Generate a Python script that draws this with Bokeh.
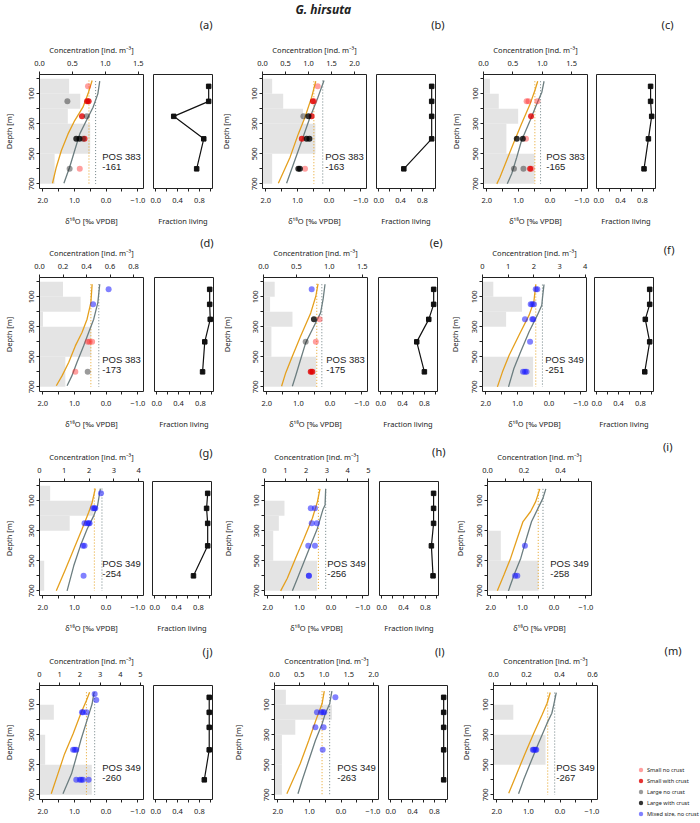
import numpy as np
from bokeh.plotting import figure
from bokeh.models import Range1d, LinearAxis, FixedTicker, Title, Legend, LegendItem
from bokeh.layouts import row, column
from bokeh.embed import file_html
from bokeh.resources import INLINE
from bokeh.core.properties import value

# ---------------- shared values ----------------
BAR_TOP = [0, 100, 200, 300, 500]
BAR_BOTTOM = [100, 200, 300, 500, 700]
FRAC_DEPTH = [50, 150, 250, 400, 600]
D18O_TICKS = [2, 1, 0, -1]
D18O_LABELS = ["2.0", "1.0", "0.0", "\u22121.0"]
D18O_MINOR = [1.5, 0.5, -0.5]
DEPTH_TICKS = [100, 300, 500, 700]
DEPTH_LABELS = ["100", "300", "500", "700"]
DEPTH_MINOR = [0, 200, 400, 600]
FRAC_TICKS = [0, 0.4, 0.8]
FRAC_LABELS = ["0.0", "0.4", "0.8"]
FRAC_MINOR = [0.2, 0.6, 1.0]
CATEGORIES = ["sn", "sc", "ln", "lc", "mx"]
CATEGORY_NAMES = ["Small no crust", "Small with crust", "Large no crust",
                  "Large with crust", "Mixed size, no crust"]

# ---------------- panel (a) POS 383-161 ----------------
a_conc = [0.45, 0.62, 0.43, 0.77, 0.23]
a_cticks = [0, 0.5, 1.0, 1.5]
a_clabels = ["0.0", "0.5", "1.0", "1.5"]
a_cmax = 1.58
a_orange_x = [0.44, 0.57, 0.73, 0.99, 1.20, 1.41, 1.57, 1.69]
a_orange_y = [11, 100, 189, 278, 367, 478, 589, 696]
a_gray_x = [0.20, 0.26, 0.41, 0.62, 0.83, 0.99, 1.15, 1.33]
a_gray_y = [15, 100, 189, 278, 367, 478, 589, 696]
a_dot = [0.54, 0.33]
a_pt_x = [0.57, 1.22, 0.60, 0.55, 0.76, 0.61, 0.94, 0.84, 0.73, 0.68, 1.15, 0.83]
a_pt_y = [50, 150, 150, 150, 250, 250, 400, 400, 400, 400, 600, 600]
a_pt_cat = ["sn", "ln", "sc", "sc", "sc", "ln", "lc", "lc", "ln", "sc", "ln", "sn"]
a_frac = [0.97, 0.97, 0.33, 0.88, 0.75]
a_pos = ["POS 383", "-161"]

# ---------------- panel (b) POS 383-163 ----------------
b_conc = [0.21, 0.45, 0.88, 1.15, 0.21]
b_cticks = [0, 0.5, 1.0, 1.5, 2.0]
b_clabels = ["0.0", "0.5", "1.0", "1.5", "2.0"]
b_cmax = 2.26
b_orange_x = [0.42, 0.55, 0.76, 0.97, 1.23, 1.60]
b_orange_y = [16, 122, 256, 367, 522, 696]
b_gray_x = [0.16, 0.35, 0.60, 0.97, 1.34]
b_gray_y = [11, 122, 256, 478, 696]
b_dot = [0.48, 0.20]
b_pt_x = [0.36, 0.51, 0.47, 0.81, 0.65, 0.55, 0.86, 0.71, 0.62, 0.97, 0.92, 0.76]
b_pt_y = [50, 150, 150, 250, 250, 250, 400, 400, 400, 600, 600, 600]
b_pt_cat = ["sn", "sc", "sn", "ln", "lc", "sc", "sc", "lc", "lc", "lc", "lc", "sn"]
b_frac = [0.97, 0.97, 0.97, 0.97, 0.46]
b_pos = ["POS 383", "-163"]

# ---------------- panel (c) POS 383-165 ----------------
c_conc = [0.11, 0.26, 0.59, 0.39, 0.87]
c_cticks = [0, 0.5, 1.0, 1.5]
c_clabels = ["0.0", "0.5", "1.0", "1.5"]
c_cmax = 1.77
c_orange_x = [0.39, 0.48, 0.63, 0.90, 1.16, 1.37, 1.58, 1.68]
c_orange_y = [16, 78, 167, 300, 433, 544, 656, 700]
c_gray_x = [0.19, 0.26, 0.42, 0.63, 0.90, 1.05, 1.21, 1.35]
c_gray_y = [16, 89, 167, 278, 411, 522, 633, 700]
c_dot = [0.48, 0.30]
c_pt_x = [0.74, 0.68, 0.40, 0.60, 1.05, 0.86, 0.76, 1.14, 0.84, 0.63, 0.58]
c_pt_y = [150, 150, 150, 250, 400, 400, 400, 600, 600, 600, 600]
c_pt_cat = ["sn", "sn", "sn", "sc", "lc", "lc", "sn", "ln", "ln", "sc", "sn"]
c_frac = [0.95, 0.95, 0.97, 0.91, 0.83]
c_pos = ["POS 383", "-165"]

# ---------------- panel (d) POS 383-173 ----------------
d_conc = [0.20, 0.35, 0.03, 0.44, 0.22]
d_cticks = [0, 0.2, 0.4, 0.6, 0.8]
d_clabels = ["0.0", "0.2", "0.4", "0.6", "0.8"]
d_cmax = 0.885
d_orange_x = [0.44, 0.48, 0.60, 0.76, 0.97, 1.18, 1.39, 1.57]
d_orange_y = [16, 138, 249, 338, 427, 538, 627, 693]
d_gray_x = [0.20, 0.26, 0.39, 0.55, 0.71, 0.92, 1.08, 1.23]
d_gray_y = [16, 138, 249, 338, 427, 538, 627, 693]
d_dot = [0.48, 0.23]
d_pt_x = [-0.08, 0.41, 0.58, 0.52, 0.44, 0.97, 0.58]
d_pt_y = [50, 150, 400, 400, 400, 600, 600]
d_pt_cat = ["mx", "mx", "sn", "sn", "sn", "sn", "ln"]
d_frac = [0.97, 0.97, 0.98, 0.88, 0.84]
d_pos = ["POS 383", "-173"]

# ---------------- panel (e) POS 383-175 ----------------
e_conc = [0.17, 0.10, 0.44, 0.12, 0.80]
e_cticks = [0, 0.5, 1.0, 1.5]
e_clabels = ["0.0", "0.5", "1.0", "1.5"]
e_cmax = 1.58
e_orange_x = [0.38, 0.45, 0.61, 0.93, 1.19, 1.40, 1.53]
e_orange_y = [13, 96, 207, 362, 496, 607, 696]
e_gray_x = [0.16, 0.22, 0.30, 0.56, 0.77, 0.93, 1.09, 1.19]
e_gray_y = [16, 116, 207, 318, 407, 518, 629, 696]
e_dot = [0.42, 0.26]
e_pt_x = [0.58, 0.51, 0.33, 0.77, 0.45, 0.61, 0.56]
e_pt_y = [50, 250, 250, 400, 400, 600, 600]
e_pt_cat = ["mx", "lc", "sn", "ln", "sn", "sc", "sc"]
e_frac = [0.97, 0.97, 0.88, 0.66, 0.80]
e_pos = ["POS 383", "-175"]

# ---------------- panel (f) POS 349-251 ----------------
f_conc = [0.42, 1.54, 0.92, 0.0, 1.97]
f_cticks = [0, 1, 2, 3, 4]
f_clabels = ["0", "1", "2", "3", "4"]
f_cmax = 4.05
f_orange_x = [0.42, 0.48, 0.63, 0.95, 1.26, 1.47, 1.63]
f_orange_y = [18, 133, 222, 356, 489, 600, 700]
f_gray_x = [0.16, 0.21, 0.23, 0.37, 0.63, 0.90, 1.11, 1.28]
f_gray_y = [18, 111, 156, 222, 333, 467, 578, 700]
f_dot = [0.42, 0.21]
f_pt_x = [0.42, 0.37, 0.58, 0.53, 0.48, 0.76, 0.53, 0.50, 0.60, 0.82, 0.76, 0.71]
f_pt_y = [50, 50, 150, 150, 150, 250, 250, 250, 400, 600, 600, 600]
f_pt_cat = ["mx"] * 12
f_frac = [0.97, 0.97, 0.89, 0.97, 0.88]
f_pos = ["POS 349", "-251"]

# ---------------- panel (g) POS 349-254 ----------------
g_conc = [0.43, 2.17, 1.22, 0.0, 0.19]
g_cticks = [0, 1, 2, 3, 4]
g_clabels = ["0", "1", "2", "3", "4"]
g_cmax = 4.2
g_orange_x = [0.34, 0.44, 0.55, 0.76, 1.02, 1.28, 1.57]
g_orange_y = [18, 111, 178, 289, 422, 556, 700]
g_gray_x = [0.18, 0.27, 0.39, 0.60, 0.81, 1.02, 1.23]
g_gray_y = [18, 133, 200, 289, 400, 533, 700]
g_dot = [0.37, 0.13]
g_pt_x = [0.16, 0.41, 0.37, 0.34, 0.68, 0.60, 0.55, 0.52, 0.73, 0.68, 0.71]
g_pt_y = [50, 150, 150, 150, 250, 250, 250, 250, 400, 400, 600]
g_pt_cat = ["mx"] * 11
g_frac = [0.97, 0.95, 0.97, 0.97, 0.71]
g_pos = ["POS 349", "-254"]

# ---------------- panel (h) POS 349-256 ----------------
h_conc = [0.0, 0.96, 0.69, 0.42, 2.53]
h_cticks = [0, 1, 2, 3, 4, 5]
h_clabels = ["0", "1", "2", "3", "4", "5"]
h_cmax = 5.0
h_orange_x = [0.35, 0.43, 0.59, 0.85, 1.12, 1.38, 1.59]
h_orange_y = [20, 105, 216, 349, 482, 616, 700]
h_gray_x = [0.17, 0.19, 0.26, 0.43, 0.64, 0.85, 1.06, 1.22]
h_gray_y = [20, 127, 160, 282, 393, 504, 616, 700]
h_dot = [0.40, 0.17]
h_pt_x = [0.64, 0.51, 0.61, 0.45, 0.72, 0.51, 0.70, 0.70]
h_pt_y = [150, 150, 250, 250, 400, 400, 600, 600]
h_pt_cat = ["mx"] * 8
h_frac = [0.95, 0.95, 0.95, 0.91, 0.94]
h_pos = ["POS 349", "-256"]

# ---------------- panel (i) POS 349-258 ----------------
i_conc = [0.0, 0.0, 0.0, 0.073, 0.28]
i_cticks = [0, 0.2, 0.4]
i_clabels = ["0.0", "0.2", "0.4"]
i_cminor = [0.1, 0.3, 0.5]
i_cmax = 0.57
i_orange_x = [0.45, 0.58, 0.74, 0.98, 1.16, 1.37, 1.58, 1.79]
i_orange_y = [20, 105, 171, 238, 349, 482, 593, 700]
i_gray_x = [0.26, 0.35, 0.53, 0.71, 0.87, 1.05, 1.26, 1.44]
i_gray_y = [20, 82, 160, 238, 349, 482, 593, 700]
i_dot = [0.50, 0.35]
i_pt_x = [0.92, 1.23, 1.16]
i_pt_y = [400, 600, 600]
i_pt_cat = ["mx"] * 3
i_pos = ["POS 349", "-258"]

# ---------------- panel (j) POS 349-260 ----------------
j_conc = [0.0, 0.71, 0.0, 0.28, 2.59]
j_cticks = [0, 1, 2, 3, 4, 5]
j_clabels = ["0", "1", "2", "3", "4", "5"]
j_cmax = 5.15
j_orange_x = [0.52, 0.62, 0.80, 1.04, 1.31, 1.52, 1.73]
j_orange_y = [16, 71, 160, 293, 427, 560, 693]
j_gray_x = [0.38, 0.44, 0.57, 0.80, 0.97, 1.09, 1.36]
j_gray_y = [16, 93, 182, 338, 471, 560, 693]
j_dot = [0.62, 0.36]
j_pt_x = [0.36, 0.31, 0.76, 0.73, 0.62, 1.04, 0.99, 0.94, 0.94, 0.83, 0.78, 0.73, 0.55]
j_pt_y = [27, 67, 150, 150, 150, 400, 400, 400, 600, 600, 600, 600, 600]
j_pt_cat = ["mx"] * 13
j_frac = [0.98, 0.98, 0.98, 0.98, 0.89]
j_pos = ["POS 349", "-260"]

# ---------------- panel (l) POS 349-263 ----------------
l_conc = [0.23, 1.16, 0.42, 0.15, 0.15]
l_cticks = [0, 0.5, 1.0, 1.5, 2.0]
l_clabels = ["0.0", "0.5", "1.0", "1.5", "2.0"]
l_cmax = 2.1
l_orange_x = [0.53, 0.60, 0.76, 1.02, 1.29, 1.55, 1.71]
l_orange_y = [9, 93, 182, 338, 493, 616, 693]
l_gray_x = [0.29, 0.36, 0.50, 0.60, 0.81, 1.02, 1.23, 1.36]
l_gray_y = [9, 93, 160, 227, 338, 471, 604, 693]
l_dot = [0.60, 0.36]
l_pt_x = [0.18, 0.76, 0.63, 0.57, 0.53, 0.81, 0.55, 0.58]
l_pt_y = [50, 150, 150, 150, 150, 250, 250, 400]
l_pt_cat = ["mx"] * 8
l_frac = [0.97, 0.97, 0.97, 0.97, 0.97]
l_pos = ["POS 349", "-263"]

# ---------------- panel (m) POS 349-267 ----------------
m_conc = [0.0, 0.12, 0.0, 0.315, 0.0]
m_cticks = [0, 0.2, 0.4, 0.6]
m_clabels = ["0.0", "0.2", "0.4", "0.6"]
m_cminor = [0.1, 0.3, 0.5]
m_cmax = 0.63
m_orange_x = [0.31, 0.41, 0.57, 0.83, 1.10, 1.36, 1.62]
m_orange_y = [18, 89, 167, 289, 422, 556, 689]
m_gray_x = [0.12, 0.20, 0.26, 0.41, 0.68, 0.94, 1.15, 1.31]
m_gray_y = [18, 100, 156, 222, 356, 489, 600, 693]
m_dot = [0.39, 0.17]
m_pt_x = [0.86, 0.83, 0.78, 0.75]
m_pt_y = [400, 400, 400, 400]
m_pt_cat = ["mx"] * 4
m_pos = ["POS 349", "-267"]


def panel(conc, cticks, clabels, cmax, ox, oy, gx, gy, dot, px, py, pc, pos, frac=None, cminor=None):
    return dict(conc=conc, cticks=cticks, clabels=clabels, cmax=cmax, ox=ox, oy=oy,
                gx=gx, gy=gy, dot=dot, px=px, py=py, pc=pc, pos=pos, frac=frac,
                cminor=cminor or [])


PANELS = {
    "a": panel(a_conc, a_cticks, a_clabels, a_cmax, a_orange_x, a_orange_y, a_gray_x, a_gray_y, a_dot, a_pt_x, a_pt_y, a_pt_cat, a_pos, a_frac),
    "b": panel(b_conc, b_cticks, b_clabels, b_cmax, b_orange_x, b_orange_y, b_gray_x, b_gray_y, b_dot, b_pt_x, b_pt_y, b_pt_cat, b_pos, b_frac),
    "c": panel(c_conc, c_cticks, c_clabels, c_cmax, c_orange_x, c_orange_y, c_gray_x, c_gray_y, c_dot, c_pt_x, c_pt_y, c_pt_cat, c_pos, c_frac),
    "d": panel(d_conc, d_cticks, d_clabels, d_cmax, d_orange_x, d_orange_y, d_gray_x, d_gray_y, d_dot, d_pt_x, d_pt_y, d_pt_cat, d_pos, d_frac),
    "e": panel(e_conc, e_cticks, e_clabels, e_cmax, e_orange_x, e_orange_y, e_gray_x, e_gray_y, e_dot, e_pt_x, e_pt_y, e_pt_cat, e_pos, e_frac),
    "f": panel(f_conc, f_cticks, f_clabels, f_cmax, f_orange_x, f_orange_y, f_gray_x, f_gray_y, f_dot, f_pt_x, f_pt_y, f_pt_cat, f_pos, f_frac),
    "g": panel(g_conc, g_cticks, g_clabels, g_cmax, g_orange_x, g_orange_y, g_gray_x, g_gray_y, g_dot, g_pt_x, g_pt_y, g_pt_cat, g_pos, g_frac),
    "h": panel(h_conc, h_cticks, h_clabels, h_cmax, h_orange_x, h_orange_y, h_gray_x, h_gray_y, h_dot, h_pt_x, h_pt_y, h_pt_cat, h_pos, h_frac),
    "i": panel(i_conc, i_cticks, i_clabels, i_cmax, i_orange_x, i_orange_y, i_gray_x, i_gray_y, i_dot, i_pt_x, i_pt_y, i_pt_cat, i_pos, None, i_cminor),
    "j": panel(j_conc, j_cticks, j_clabels, j_cmax, j_orange_x, j_orange_y, j_gray_x, j_gray_y, j_dot, j_pt_x, j_pt_y, j_pt_cat, j_pos, j_frac),
    "l": panel(l_conc, l_cticks, l_clabels, l_cmax, l_orange_x, l_orange_y, l_gray_x, l_gray_y, l_dot, l_pt_x, l_pt_y, l_pt_cat, l_pos, l_frac),
    "m": panel(m_conc, m_cticks, m_clabels, m_cmax, m_orange_x, m_orange_y, m_gray_x, m_gray_y, m_dot, m_pt_x, m_pt_y, m_pt_cat, m_pos, None, m_cminor),
}

# ---------------- styles / layout ----------------
FONT = "Noto Sans"
TICK_FS = "7.5px"
LABEL_FS = "7.5px"
ORANGE = "#E5A01E"
GRAY = "#6C7E80"
BAR_COLOR = "#E4E4E4"
CAT_STYLE = {"sn": ("#ff2a2a", 0.45), "sc": ("#e00000", 0.8), "ln": ("#222222", 0.45),
             "lc": ("#000000", 0.8), "mx": ("#1a1aff", 0.55)}
FRAME_W, FRAC_W, FRAME_H = 104, 59, 114
AXIS_ABOVE = 32.4          # approx. height of the concentration axis block
COL_LEFT = [None, 43, 36]  # left border of the 2nd / 3rd main figure of a row
DEPTH_STANDOFF = [13, 19, 10]
LEGEND_GLYPH_X = 634       # page x of the legend markers
LEGEND_BOTTOM = 819        # page y of the legend's lower edge

# page positions (the bokeh page has no margin): (key, main frame left, frac frame left, frame top)
LAYOUT = [
    dict(top=0, bottom=232, end=699, cells=[("a", 35, 149, 74), ("b", 256, 370, 74), ("c", 477, 590, 74)]),
    dict(top=232, bottom=432, end=699, cells=[("d", 36, 151, 277), ("e", 258, 373, 277), ("f", 477, 589, 270)]),
    dict(top=432, bottom=635, end=699, cells=[("g", 36, 149, 480), ("h", 259, 374, 480), ("i", 482, None, 481)]),
    dict(top=635, bottom=822, end=699, cells=[("j", 35, 149, 685), ("l", 268, 382, 685), ("m", 487, None, 685)]),
]
PANEL_LABEL_POS = {"a": (208, 23), "b": (438, 23), "c": (667, 23), "d": (210, 241), "e": (437, 241),
                   "f": (669, 241), "g": (209, 450), "h": (440, 449), "i": (667, 448),
                   "j": (208, 650), "l": (438, 650), "m": (675, 650)}


def style_axis(ax, ticks, labels, minor, bounds):
    ax.ticker = FixedTicker(ticks=ticks, minor_ticks=minor)
    ax.major_label_overrides = {t: s for t, s in zip(ticks, labels)}
    ax.major_tick_out = 3
    ax.major_tick_in = 0
    ax.minor_tick_out = 3
    ax.minor_tick_in = 0
    ax.bounds = bounds
    ax.major_label_text_font = FONT
    ax.major_label_text_font_size = TICK_FS
    ax.major_label_text_color = "#222222"
    ax.axis_label_text_font = FONT
    ax.axis_label_text_font_size = LABEL_FS
    ax.axis_label_text_font_style = "normal"
    ax.axis_label_text_color = "#222222"
    ax.axis_line_color = "#222222"
    ax.major_tick_line_color = "#222222"
    ax.minor_tick_line_color = "#222222"


def base_fig(fw, x0, x1, fl, ft, top, bottom, x_range, **kw):
    p = figure(frame_width=fw, frame_height=FRAME_H,
               min_border_left=fl - x0, min_border_right=x1 - fl - fw,
               min_border_top=ft - top, min_border_bottom=bottom - ft - FRAME_H,
               x_range=x_range, y_range=Range1d(731, -29),
               output_backend="svg", toolbar_location=None, **kw)
    p.xgrid.visible = False
    p.ygrid.visible = False
    p.outline_line_color = "#222222"
    p.outline_line_alpha = 1.0
    p.outline_line_width = 1
    return p


def above_text(p, text, dist, base, size, h, ls, align="right", offset=0, style="normal"):
    """Blank spacer title (if room is needed) and a text title stacked above the frame."""
    s = dist - base - ls / 2 - h / 2
    if s >= 4:
        p.add_layout(Title(text=" ", text_font_size="1px", standoff=int(round(s - 3.4))), "above")
    p.add_layout(Title(text=text, align=align, offset=offset, standoff=ls, vertical_align="bottom",
                       text_font=FONT, text_font_size=size, text_font_style=style,
                       text_color="#222222"), "above")


def make_main(key, x0, x1, ml, ft, top, bottom, col, last_row):
    P = PANELS[key]
    p = base_fig(FRAME_W, x0, x1, ml, ft, top, bottom, Range1d(2.1, -1.18))
    p.extra_x_ranges = {"conc": Range1d(0, P["cmax"])}
    p.quad(left=[0] * len(P["conc"]), right=P["conc"], top=BAR_TOP, bottom=BAR_BOTTOM,
           x_range_name="conc", fill_color=BAR_COLOR, line_color=None)
    p.segment(x0=P["dot"], x1=P["dot"], y0=[P["oy"][0], P["gy"][0]], y1=[700, 700],
              line_color=[ORANGE, GRAY], line_dash="1 2", line_width=1)
    p.line(P["ox"], P["oy"], line_color=ORANGE, line_width=1.3)
    p.line(P["gx"], P["gy"], line_color=GRAY, line_width=1.3)
    for cat in CATEGORIES:
        xs = [x for x, c in zip(P["px"], P["pc"]) if c == cat]
        ys = [y for y, c in zip(P["py"], P["pc"]) if c == cat]
        if xs:
            colr, alpha = CAT_STYLE[cat]
            p.scatter(xs, ys, size=6, fill_color=colr, fill_alpha=alpha, line_alpha=0)
    p.text(x=[0.12, 0.12], y=[520, 588], text=P["pos"], text_font=value("Liberation Sans"),
           text_font_size="9.5px", text_align="left", text_baseline="middle", text_color="#222222")
    xa = p.xaxis[0]
    style_axis(xa, D18O_TICKS, D18O_LABELS, D18O_MINOR, (-1, 2))
    xa.major_label_standoff = 6
    if not last_row:
        xa.axis_label = "\u03b4\u00b9\u2078O [\u2030 VPDB]"
        xa.axis_label_standoff = 10
    ya = p.yaxis[0]
    style_axis(ya, DEPTH_TICKS, DEPTH_LABELS, DEPTH_MINOR, (0, 700))
    ya.major_label_orientation = "vertical"
    ya.major_label_standoff = 2
    ya.axis_label = "Depth [m]"
    ya.axis_label_standoff = DEPTH_STANDOFF[col]
    ca = LinearAxis(x_range_name="conc", axis_label="Concentration [ind. m\u207b\u00b3]")
    style_axis(ca, P["cticks"], P["clabels"], P["cminor"], (0, P["cticks"][-1]))
    ca.major_label_standoff = 6
    ca.axis_label_standoff = 3
    p.add_layout(ca, "above")
    if P["frac"] is None:
        rx, cy = PANEL_LABEL_POS[key]
        above_text(p, "(" + key + ")", ft - cy, AXIS_ABOVE, "11px", 15, -10,
                   offset=(ml + FRAME_W) - rx)
    return p


def make_frac(key, x0, x1, fl, ft, top, bottom, last_row):
    P = PANELS[key]
    p = base_fig(FRAC_W, x0, x1, fl, ft, top, bottom, Range1d(-0.04, 1.04), y_axis_location=None)
    p.line(P["frac"], FRAC_DEPTH, line_color="#111111", line_width=1.2)
    p.scatter(P["frac"], FRAC_DEPTH, marker="square", size=4.5, fill_color="#111111", line_color="#111111")
    xa = p.xaxis[0]
    style_axis(xa, FRAC_TICKS, FRAC_LABELS, FRAC_MINOR, (0, 1))
    xa.major_label_standoff = 6
    if not last_row:
        xa.axis_label = "Fraction living"
        xa.axis_label_standoff = 10
    rx, cy = PANEL_LABEL_POS[key]
    above_text(p, "(" + key + ")", ft - cy, 0, "11px", 15, -4, offset=(fl + FRAC_W) - rx)
    return p


def add_legend(p, frame_right, frame_bottom):
    # legend-only renderers: one NaN point each, so nothing is drawn in the frame
    items = []
    for cat, name in zip(CATEGORIES, CATEGORY_NAMES):
        colr, alpha = CAT_STYLE[cat]
        rr = p.scatter(np.array([np.nan]), np.array([np.nan]), size=6, fill_color=colr,
                       fill_alpha=alpha, line_alpha=0)
        items.append(LegendItem(label=value(name), renderers=[rr]))
    leg = Legend(items=items,
                 location=(LEGEND_GLYPH_X - 5 - frame_right, -(LEGEND_BOTTOM - frame_bottom)),
                 border_line_color=None, background_fill_alpha=0, label_text_font=FONT,
                 label_text_font_size="5.6px", label_text_color="#222222",
                 glyph_width=11, glyph_height=11, label_height=11,
                 spacing=0, padding=0, margin=0, label_standoff=1)
    p.add_layout(leg, "right")


rows = []
for ri, r in enumerate(LAYOUT):
    last_row = ri == len(LAYOUT) - 1
    figs = []
    cursor = 0
    cells = r["cells"]
    for k, (key, ml, fl, ft) in enumerate(cells):
        nxt = cells[k + 1][1] - COL_LEFT[k + 1] if k + 1 < len(cells) else r["end"]
        main_end = nxt if fl is None else ml + FRAME_W + 4
        pm = make_main(key, cursor, main_end, ml, ft, r["top"], r["bottom"], k, last_row)
        figs.append(pm)
        if key == "b":
            above_text(pm, "G. hirsuta", ft - 9, AXIS_ABOVE, "12px", 16.5, -6,
                       align="left", offset=289 - ml, style="bold italic")
        if key == "m":
            add_legend(pm, ml + FRAME_W, ft + FRAME_H)
        if fl is not None:
            figs.append(make_frac(key, main_end, nxt, fl, ft, r["top"], r["bottom"], last_row))
        cursor = nxt
    rows.append(row(*figs))

layout = column(*rows)
open("out.html", "w").write(file_html(layout, INLINE))
